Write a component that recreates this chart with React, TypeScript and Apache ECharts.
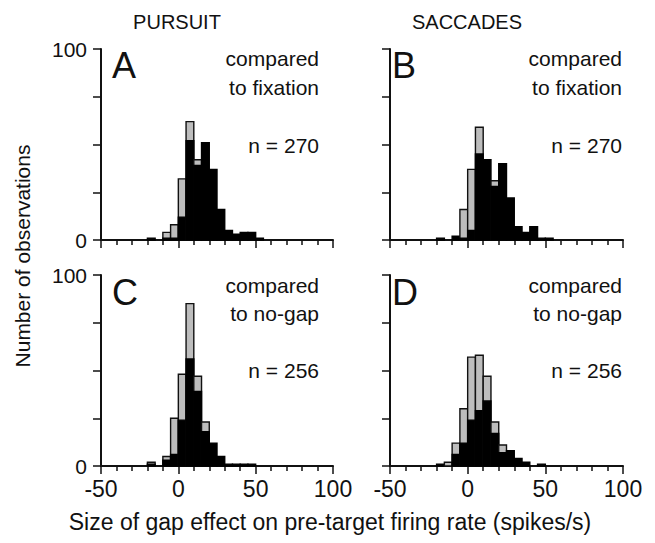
import React, { useEffect, useRef } from "react";
import * as echarts from "echarts";

// Bin starts (spikes/s), bin width 5
const binStarts = [-20, -15, -10, -5, 0, 5, 10, 15, 20, 25, 30, 35, 40, 45, 50];

// Panel A: pursuit, compared to fixation (n = 270)
const totalA = [1, 0, 4, 8, 32, 62, 42, 51, 37, 16, 5, 3, 4, 4, 1];
const blackA = [1, 0, 1, 1, 12, 52, 39, 51, 37, 16, 5, 3, 4, 4, 1];
// Panel B: saccades, compared to fixation (n = 270)
const totalB = [1, 0, 2, 16, 37, 59, 42, 31, 40, 22, 7, 4, 7, 1, 1];
const blackB = [1, 0, 2, 1, 5, 45, 42, 28, 40, 22, 7, 4, 7, 1, 1];
// Panel C: pursuit, compared to no-gap (n = 256)
const totalC = [2, 0, 5, 25, 48, 85, 47, 23, 12, 5, 1, 1, 1, 1, 0];
const blackC = [1, 0, 3, 6, 24, 56, 39, 18, 12, 5, 1, 1, 1, 1, 0];
// Panel D: saccades, compared to no-gap (n = 256)
const totalD = [1, 2, 12, 30, 57, 58, 47, 23, 11, 8, 4, 2, 0, 1, 0];
const blackD = [1, 0, 6, 12, 24, 29, 34, 17, 7, 8, 4, 2, 0, 1, 0];

const panelLetters = ["A", "B", "C", "D"];
const columnTitles = ["PURSUIT", "SACCADES"];
const comparisonTop = ["compared", "to fixation"];
const comparisonBottom = ["compared", "to no-gap"];
const nLabels = ["n = 270", "n = 270", "n = 256", "n = 256"];
const xTickLabels = [-50, 0, 50, 100];
const yTickLabels = [0, 100];
const yTitle = "Number of observations";
const xTitle = "Size of gap effect on pre-target firing rate (spikes/s)";

const FONT = "'Liberation Sans', Arial, Helvetica, sans-serif";
const INK = "#111";
const GRAY = "#bdbdbd";

const panels = [
  { total: totalA, black: blackA },
  { total: totalB, black: blackB },
  { total: totalC, black: blackC },
  { total: totalD, black: blackD },
];

const grids = [
  { left: 101, top: 49, width: 232, height: 191 },
  { left: 390, top: 49, width: 233, height: 191 },
  { left: 101, top: 275, width: 232, height: 191 },
  { left: 390, top: 275, width: 233, height: 191 },
];

export default function App() {
  const ref = useRef<HTMLDivElement>(null);

  useEffect(() => {
    if (!ref.current) return;
    const chart = echarts.init(ref.current, undefined, { renderer: "svg" });

    const xAxes = grids.map((_, i) => ({
      type: "value",
      gridIndex: i,
      min: -50,
      max: 100,
      interval: 50,
      splitLine: { show: false },
      axisLine: { show: true, onZero: false, lineStyle: { color: INK, width: 2 } },
      axisTick: { show: true, inside: false, length: 8, lineStyle: { color: INK, width: 1.5 } },
      minorTick: { show: true, splitNumber: 5, length: 5, lineStyle: { color: INK, width: 1.5 } },
      axisLabel: {
        show: i >= 2,
        margin: 11,
        fontSize: 23,
        fontFamily: FONT,
        color: INK,
        formatter: (v: number) => (xTickLabels.includes(v) ? String(v) : ""),
      },
    }));

    const yAxes = grids.map((_, i) => ({
      type: "value",
      gridIndex: i,
      min: 0,
      max: 100,
      interval: 25,
      splitLine: { show: false },
      axisLine: { show: true, onZero: false, lineStyle: { color: INK, width: 2 } },
      axisTick: { show: true, inside: false, length: 8, lineStyle: { color: INK, width: 1.5 } },
      axisLabel: {
        show: i % 2 === 0,
        margin: 14,
        fontSize: 21,
        fontFamily: FONT,
        color: INK,
        formatter: (v: number) => (yTickLabels.includes(v) ? String(v) : ""),
      },
    }));

    const series = panels.map((p, i) => ({
      type: "custom",
      xAxisIndex: i,
      yAxisIndex: i,
      clip: false,
      encode: { x: [0, 1], y: [2, 3] },
      data: binStarts.map((s, k) => [s, s + 5, p.black[k], p.total[k]]),
      renderItem: (params: any, api: any) => {
        const x0 = api.value(0);
        const x1 = api.value(1);
        const b = api.value(2);
        const t = api.value(3);
        if (t <= 0) return { type: "group", children: [] };
        const base = api.coord([x0, 0]);
        const pb = api.coord([x1, b]);
        const pt = api.coord([x1, t]);
        const w = pb[0] - base[0];
        const children: any[] = [];
        if (t > b) {
          children.push({
            type: "rect",
            shape: { x: base[0], y: pt[1], width: w, height: base[1] - pt[1] },
            style: { fill: GRAY, stroke: INK, lineWidth: 1.4 },
          });
        }
        if (b > 0) {
          children.push({
            type: "rect",
            shape: { x: base[0], y: pb[1], width: w, height: base[1] - pb[1] },
            style: { fill: "#000", stroke: "#000", lineWidth: 1.4 },
          });
        }
        return { type: "group", children };
      },
    }));

    const txt = (text: string, x: number, y: number, size: number, align = "left", extra: any = {}) => ({
      type: "text",
      x,
      y,
      ...extra,
      style: {
        text,
        fontSize: size,
        fontFamily: FONT,
        fill: INK,
        textAlign: align,
        textVerticalAlign: "middle",
      },
    });

    const graphics: any[] = [
      txt(columnTitles[0], 177, 22, 20, "center"),
      txt(columnTitles[1], 467, 22, 20, "center"),
      txt(panelLetters[0], 112, 65, 36),
      txt(panelLetters[1], 392, 65, 36),
      txt(panelLetters[2], 112, 292, 36),
      txt(panelLetters[3], 392, 292, 36),
      txt(comparisonTop[0], 319, 58, 21, "right"),
      txt(comparisonTop[1], 319, 87, 21, "right"),
      txt(comparisonTop[0], 622, 58, 21, "right"),
      txt(comparisonTop[1], 622, 87, 21, "right"),
      txt(comparisonBottom[0], 319, 285, 21, "right"),
      txt(comparisonBottom[1], 319, 313, 21, "right"),
      txt(comparisonBottom[0], 622, 285, 21, "right"),
      txt(comparisonBottom[1], 622, 313, 21, "right"),
      txt(nLabels[0], 319, 145, 21, "right"),
      txt(nLabels[1], 622, 145, 21, "right"),
      txt(nLabels[2], 319, 370, 21, "right"),
      txt(nLabels[3], 622, 370, 21, "right"),
      txt(yTitle, 22, 256, 21, "center", { rotation: Math.PI / 2 }),
      txt(xTitle, 330, 522, 23, "center"),
    ];

    chart.setOption({
      animation: false,
      backgroundColor: "#fff",
      grid: grids.map((g) => ({ ...g, containLabel: false })),
      xAxis: xAxes,
      yAxis: yAxes,
      series,
      graphic: { elements: graphics },
    });

    return () => chart.dispose();
  }, []);

  return (
    <div
      ref={ref}
      style={{ position: "fixed", left: 0, top: 0, width: 655, height: 543, background: "#fff" }}
    />
  );
}
